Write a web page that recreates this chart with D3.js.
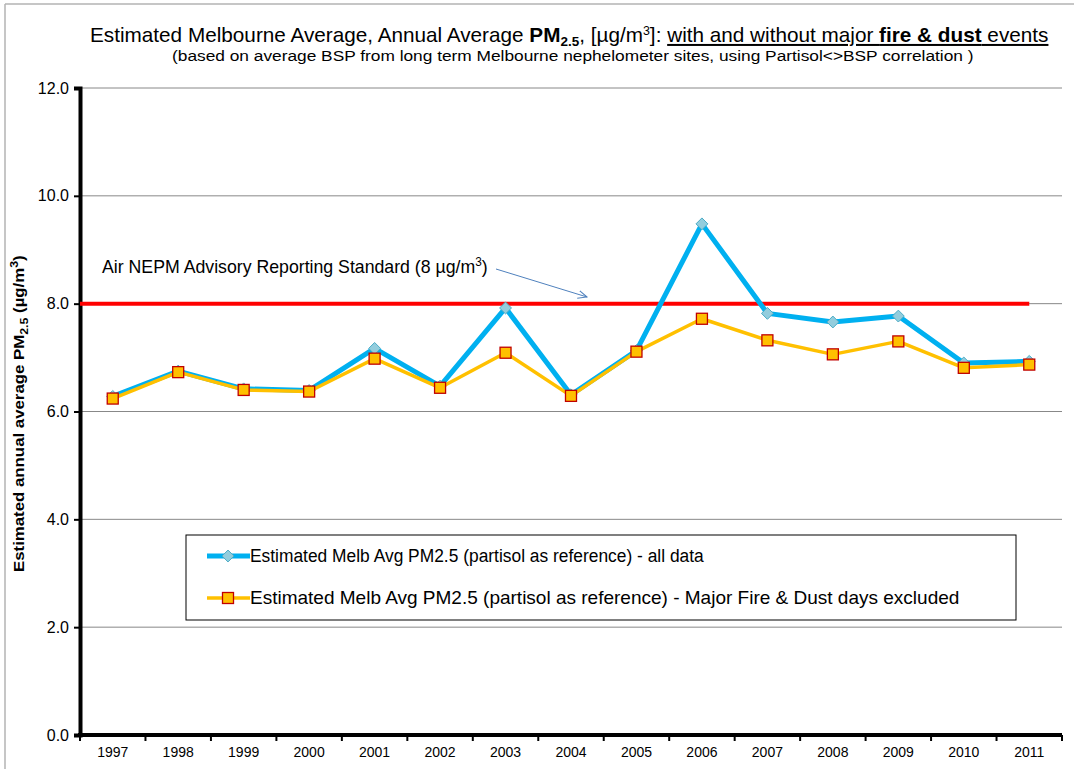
<!DOCTYPE html>
<html>
<head>
<meta charset="utf-8">
<script src="https://cdn.jsdelivr.net/npm/d3@7"></script>
<style>
  body { margin: 0; background: #fff; }
  svg { display: block; font-family: "Liberation Sans", Arial, sans-serif; }
</style>
</head>
<body>
<div id="chart"></div>
<script>
// data
const years = ["1997","1998","1999","2000","2001","2002","2003","2004","2005","2006","2007","2008","2009","2010","2011"];
const allData = [6.28, 6.75, 6.42, 6.39, 7.17, 6.47, 7.92, 6.31, 7.13, 9.48, 7.82, 7.66, 7.77, 6.90, 6.93];
const noFireDust = [6.24, 6.73, 6.40, 6.37, 6.98, 6.44, 7.09, 6.29, 7.11, 7.72, 7.32, 7.06, 7.30, 6.81, 6.87];
const yTicks = [0, 2, 4, 6, 8, 10, 12];
const standard = 8;

const W = 1074, H = 769;
const m = {left: 80, right: 1062, top: 88, bottom: 735};

const svg = d3.select("#chart").append("svg").attr("width", W).attr("height", H);

// squeeze/stretch a text horizontally so it spans [x0, x1]
function fitX(sel, x0, x1) {
  const bb = sel.node().getBBox();
  const s = (x1 - x0) / bb.width;
  sel.attr("transform", `translate(${x0},0) scale(${s},1) translate(${-bb.x},0)`);
}

// outer frame (only partly visible in the original)
svg.append("line").attr("x1", 5).attr("x2", 5).attr("y1", 4).attr("y2", H).attr("stroke", "#b3b3b3").attr("stroke-width", 1.5);
svg.append("line").attr("x1", 5).attr("x2", W).attr("y1", 4).attr("y2", 4).attr("stroke", "#b3b3b3").attr("stroke-width", 1.5);

const x = d3.scaleBand().domain(years).range([m.left, m.right]);
const y = d3.scaleLinear().domain([0, 12]).range([m.bottom, m.top]);
const cx = d => x(d) + x.bandwidth() / 2;

// gridlines
svg.append("g").selectAll("line").data(yTicks.filter(d => d > 0)).enter()
  .append("line")
  .attr("x1", m.left).attr("x2", m.right)
  .attr("y1", d => y(d)).attr("y2", d => y(d))
  .attr("stroke", "#888").attr("stroke-width", 1);

// y axis
const yAxis = svg.append("g").attr("transform", `translate(${m.left},0)`)
  .call(d3.axisLeft(y).tickValues(yTicks).tickFormat(d3.format(".1f")).tickSize(6).tickPadding(5));
yAxis.attr("font-family", null).attr("font-size", null);
yAxis.select(".domain").attr("stroke", "#000").attr("stroke-width", 4);
yAxis.selectAll(".tick line").attr("stroke", "#000").attr("stroke-width", 2);
yAxis.selectAll("text").attr("font-size", 16).attr("fill", "#000");

// x axis, ticks at category boundaries
const xAxisG = svg.append("g").attr("transform", `translate(0,${m.bottom})`);
xAxisG.append("line").attr("x1", m.left - 2).attr("x2", m.right).attr("y1", 0).attr("y2", 0)
  .attr("stroke", "#000").attr("stroke-width", 4);
xAxisG.selectAll(".bt").data(years.concat(["end"])).enter()
  .append("line")
  .attr("x1", (d, i) => m.left + i * x.bandwidth())
  .attr("x2", (d, i) => m.left + i * x.bandwidth())
  .attr("y1", 0).attr("y2", 6)
  .attr("stroke", "#000").attr("stroke-width", 2);
xAxisG.selectAll("text").data(years).enter()
  .append("text")
  .attr("x", d => cx(d)).attr("y", 22)
  .attr("text-anchor", "middle").attr("font-size", 14).attr("fill", "#000")
  .text(d => d);

// y axis title
const ytg = svg.append("g").attr("transform", "translate(24,0) rotate(-90)");
const yt = ytg.append("text").attr("x", 0).attr("y", 0)
  .attr("font-size", 15).attr("font-weight", "bold");
yt.append("tspan").text("Estimated annual average PM");
yt.append("tspan").attr("font-size", 11).attr("dy", 4).text("2.5");
yt.append("tspan").attr("dy", -4).text(" (µg/m");
yt.append("tspan").attr("font-size", 11).attr("dy", -6).text("3");
yt.append("tspan").attr("dy", 6).text(")");
fitX(yt, -572, -255);

// standard line
svg.append("line")
  .attr("x1", m.left).attr("x2", cx(years[years.length - 1]))
  .attr("y1", y(standard)).attr("y2", y(standard))
  .attr("stroke", "#ff0000").attr("stroke-width", 4);

// series lines
const line = d3.line().x((d, i) => cx(years[i])).y(d => y(d));
svg.append("path").datum(allData).attr("d", line)
  .attr("fill", "none").attr("stroke", "#00b0f0").attr("stroke-width", 5).attr("stroke-linejoin", "round");
svg.append("path").datum(noFireDust).attr("d", line)
  .attr("fill", "none").attr("stroke", "#ffc000").attr("stroke-width", 3.5).attr("stroke-linejoin", "round");

// markers
svg.append("g").selectAll("path").data(allData).enter()
  .append("path")
  .attr("d", d3.symbol(d3.symbolDiamond2, 90)())
  .attr("transform", (d, i) => `translate(${cx(years[i])},${y(d)})`)
  .attr("fill", "#93cddd").attr("stroke", "#4bacc6").attr("stroke-width", 1);
svg.append("g").selectAll("rect").data(noFireDust).enter()
  .append("rect")
  .attr("x", (d, i) => cx(years[i]) - 5.5).attr("y", d => y(d) - 5.5)
  .attr("width", 11).attr("height", 11)
  .attr("fill", "#ffc000").attr("stroke", "#c00000").attr("stroke-width", 1.3);

// annotation
const ann = svg.append("text").attr("x", 0).attr("y", 273).attr("font-size", 18).attr("fill", "#000");
ann.append("tspan").text("Air NEPM Advisory Reporting Standard (8 µg/m");
ann.append("tspan").attr("font-size", 12).attr("dy", -7).text("3");
ann.append("tspan").attr("dy", 7).text(")");
fitX(ann, 102, 488);
svg.append("defs").append("marker").attr("id", "arr")
  .attr("viewBox", "0 0 10 10").attr("refX", 9).attr("refY", 5)
  .attr("markerWidth", 10).attr("markerHeight", 10).attr("orient", "auto")
  .append("path").attr("d", "M0,1 L9,5 L0,9").attr("fill", "none").attr("stroke", "#4f81bd").attr("stroke-width", 1);
svg.append("line").attr("x1", 496).attr("y1", 269).attr("x2", 587).attr("y2", 297)
  .attr("stroke", "#4f81bd").attr("stroke-width", 1).attr("marker-end", "url(#arr)");

// title
const t = svg.append("text").attr("x", 0).attr("y", 42).attr("font-size", 20);
t.append("tspan").text("Estimated Melbourne Average, Annual Average ");
t.append("tspan").attr("font-weight", "bold").text("PM");
t.append("tspan").attr("font-weight", "bold").attr("font-size", 13).attr("dy", 4).text("2.5");
t.append("tspan").attr("dy", -4).text(",  [µg/m");
t.append("tspan").attr("font-size", 12).attr("dy", -7).text("3");
t.append("tspan").attr("dy", 7).text("]: ");
t.append("tspan").attr("text-decoration", "underline").text("with and without major ");
t.append("tspan").attr("text-decoration", "underline").attr("font-weight", "bold").text("fire & dust");
t.append("tspan").attr("text-decoration", "underline").text(" events");
fitX(t, 90, 1049);
const sub = svg.append("text").attr("x", 0).attr("y", 61).attr("font-size", 14)
  .text("(based on average BSP from long term Melbourne nephelometer sites, using Partisol<>BSP correlation )");
fitX(sub, 172, 974);

// legend
const lg = svg.append("g").attr("transform", "translate(186,535)");
lg.append("rect").attr("width", 830).attr("height", 85).attr("fill", "#fff").attr("stroke", "#000").attr("stroke-width", 1);
const legendItems = [
  {label: "Estimated Melb Avg PM2.5 (partisol as reference) - all data", c: "#00b0f0", sym: "d", yy: 21, end: 705},
  {label: "Estimated Melb Avg PM2.5 (partisol as reference) - Major Fire & Dust days excluded", c: "#ffc000", sym: "s", yy: 63, end: 960}
];
legendItems.forEach(it => {
  lg.append("line").attr("x1", 21).attr("x2", 64).attr("y1", it.yy).attr("y2", it.yy)
    .attr("stroke", it.c).attr("stroke-width", it.sym === "d" ? 5 : 3.5);
  if (it.sym === "d") {
    lg.append("path").attr("d", d3.symbol(d3.symbolDiamond2, 90)())
      .attr("transform", `translate(42,${it.yy})`)
      .attr("fill", "#93cddd").attr("stroke", "#4bacc6");
  } else {
    lg.append("rect").attr("x", 36.5).attr("y", it.yy - 5.5).attr("width", 11).attr("height", 11)
      .attr("fill", "#ffc000").attr("stroke", "#c00000").attr("stroke-width", 1.3);
  }
  const lt = lg.append("text").attr("x", 0).attr("y", it.yy + 6).attr("font-size", 18).text(it.label);
  fitX(lt, 64, it.end - 186);
});
</script>
</body>
</html>
